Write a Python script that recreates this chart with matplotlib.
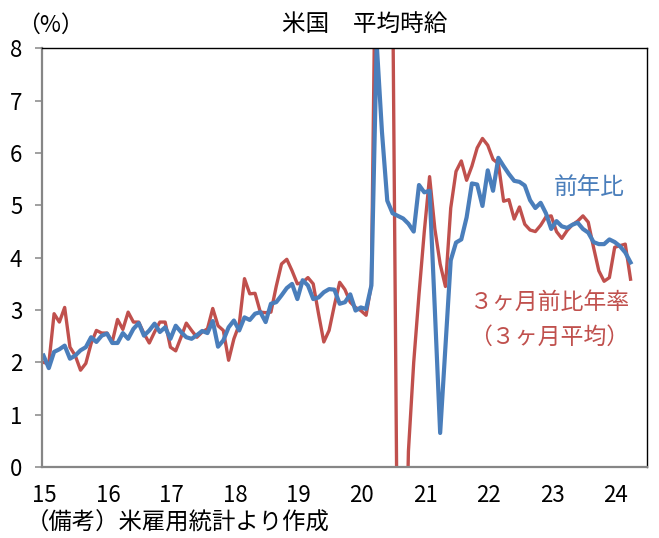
import matplotlib
matplotlib.use("Agg")
import matplotlib.pyplot as plt
import numpy as np

plt.rcParams['font.family'] = ['Noto Sans CJK JP', 'DejaVu Sans']

# monthly, 2015/1 - 2024/4
yoy = [2.13, 1.89, 2.20, 2.25, 2.32, 2.07, 2.13, 2.23, 2.29, 2.48, 2.39, 2.51,
       2.55, 2.37, 2.37, 2.56, 2.45, 2.64, 2.75, 2.51, 2.61, 2.74, 2.58, 2.67,
       2.45, 2.70, 2.58, 2.48, 2.45, 2.52, 2.60, 2.56, 2.79, 2.30, 2.42, 2.67,
       2.80, 2.61, 2.86, 2.81, 2.93, 2.96, 2.77, 3.12, 3.15, 3.28, 3.42, 3.50,
       3.21, 3.57, 3.47, 3.21, 3.24, 3.34, 3.40, 3.39, 3.12, 3.15, 3.30, 2.99,
       3.05, 3.02, 3.47, 8.10, 6.40, 5.09, 4.85, 4.80, 4.75, 4.65, 4.50, 5.39,
       5.25, 5.28, 3.00, 0.65, 2.30, 3.95, 4.29, 4.35, 4.77, 5.42, 5.40, 4.99,
       5.67, 5.28, 5.91, 5.75, 5.60, 5.47, 5.45, 5.38, 5.10, 4.95, 5.05, 4.85,
       4.55, 4.70, 4.60, 4.57, 4.63, 4.67, 4.55, 4.48, 4.30, 4.26, 4.26, 4.35,
       4.30, 4.22, 4.10, 3.91]

ann3m = [2.00, 1.97, 2.93, 2.77, 3.05, 2.29, 2.13, 1.85, 1.98, 2.36, 2.61, 2.56,
         2.56, 2.39, 2.82, 2.63, 2.96, 2.77, 2.77, 2.55, 2.37, 2.58, 2.77, 2.77,
         2.29, 2.22, 2.48, 2.75, 2.61, 2.48, 2.58, 2.64, 3.03, 2.70, 2.61, 2.04,
         2.45, 2.72, 3.60, 3.31, 3.32, 2.96, 2.95, 2.96, 3.45, 3.88, 3.97, 3.75,
         3.50, 3.53, 3.62, 3.50, 2.93, 2.39, 2.61, 3.09, 3.53, 3.39, 3.15, 3.05,
         2.99, 2.90, 3.50, 12.0, 20.0, 15.0, 9.5, -3.0, -4.5, 0.3, 2.0, 3.3,
         4.50, 5.55, 4.55, 3.88, 3.45, 4.95, 5.65, 5.85, 5.48, 5.75, 6.10, 6.28,
         6.15, 5.88, 5.80, 5.08, 5.11, 4.74, 4.97, 4.64, 4.53, 4.50, 4.62, 4.78,
         4.80, 4.50, 4.37, 4.52, 4.63, 4.70, 4.80, 4.68, 4.20, 3.75, 3.55, 3.62,
         4.20, 4.23, 4.26, 3.59]

years = ['15', '16', '17', '18', '19', '20', '21', '22', '23', '24']

blue = '#4A7EBB'
red = '#C0504D'
gray = '#868686'

fig = plt.figure(figsize=(6.59, 5.38), dpi=100)
ax = fig.add_axes([0.0633, 0.132, 0.9192, 0.7779])

x = np.arange(len(yoy))
ax.plot(x, ann3m, color=red, lw=2.4, solid_joinstyle='round')
ax.plot(x, yoy, color=blue, lw=3.0, solid_joinstyle='round')

ax.set_xlim(-0.34, 114.2)
ax.set_ylim(0, 8)
ax.set_yticks(range(0, 9))
ax.set_xticks(np.arange(len(years)) * 12 + 0.2)
ax.set_xticklabels(years)

ax.tick_params(axis='y', direction='out', length=5, width=1.1, color=gray,
               pad=9, labelsize=16)
ax.tick_params(axis='x', length=0, pad=12, labelsize=16)

for s in ['left', 'bottom']:
    ax.spines[s].set_color(gray)
    ax.spines[s].set_linewidth(1.6)
for s in ['top', 'right']:
    ax.spines[s].set_color('black')
    ax.spines[s].set_linewidth(1.0)

ax.text(103.2, 5.35, '前年比', color=blue, fontsize=17, ha='center', va='center')
ax.text(95.8, 3.14, '３ヶ月前比年率', color=red, fontsize=16.5, ha='center', va='center')
ax.text(95.6, 2.48, '（３ヶ月平均）', color=red, fontsize=16.5, ha='center', va='center')

fig.text(365 / 659, 1 - 24 / 538, '米国　平均時給', fontsize=17, ha='center', va='center')
fig.text(50 / 659, 1 - 25 / 538, '（%）', fontsize=16.5, ha='center', va='center')
fig.text(26 / 659, 1 - 523 / 538, '（備考）米雇用統計より作成', fontsize=16.8,
         ha='left', va='center')

fig.savefig('out.png', dpi=100)
